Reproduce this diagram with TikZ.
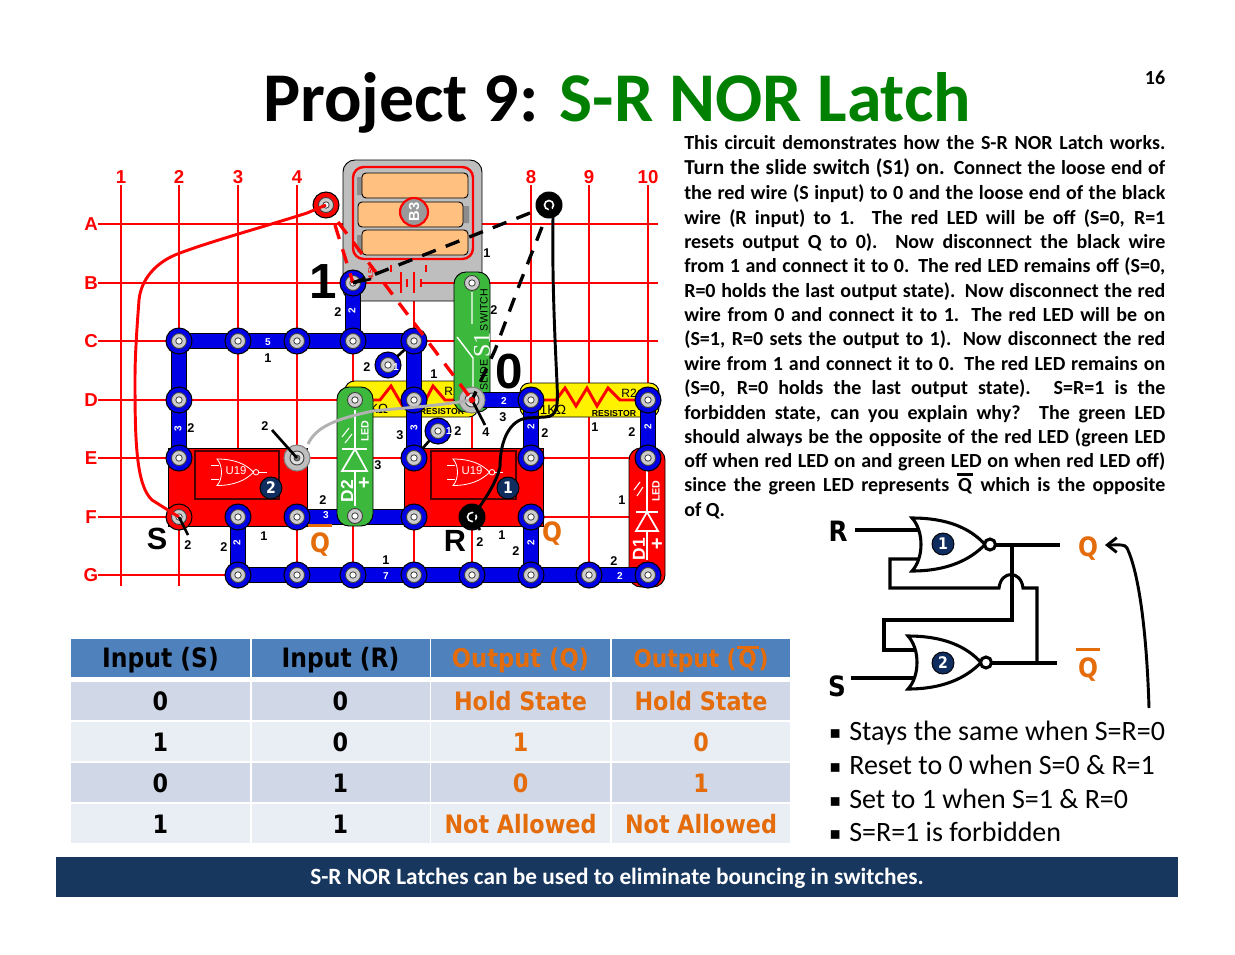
\documentclass[tikz,border=0pt]{standalone}
\usepackage{fontspec}
\usetikzlibrary{arrows.meta}
\setmainfont{Carlito}
\newfontfamily\arialfont{Liberation Sans}
\newfontfamily\serifont{Liberation Serif}
\newfontfamily\tabfont[FakeStretch=0.88]{DejaVu Sans}
\newfontfamily\symfont{DejaVu Sans}
\definecolor{gridred}{RGB}{255,0,0}
\definecolor{snapblue}{RGB}{0,0,230}
\definecolor{titlegreen}{RGB}{0,128,0}
\definecolor{ledgreen}{RGB}{60,184,60}
\definecolor{outorange}{RGB}{228,108,10}
\definecolor{headblue}{RGB}{79,129,189}
\definecolor{rowdark}{RGB}{208,216,232}
\definecolor{rowlight}{RGB}{233,237,244}
\definecolor{navy}{RGB}{23,55,94}
\definecolor{ballnavy}{RGB}{15,45,95}
\definecolor{cellorange}{RGB}{255,192,128}
\definecolor{batgrey}{RGB}{190,190,190}
\newcommand{\barq}[1]{\vbox{\offinterlineskip\hrule height .12em\kern #1\hbox{\kern.07em Q\kern.07em}}}
\tikzset{
  gridline/.style={gridred,line width=1.1pt},
  gridlabel/.style={gridred,font=\arialfont\bfseries\fontsize{14}{14}\selectfont,inner sep=0pt},
  barout/.style={black,line width=11.6pt},
  barin/.style={snapblue,line width=10pt},
  module/.style={draw=black,line width=.7pt,rounded corners=7pt},
  bodyline/.style={anchor=base west,inner sep=0pt,font=\bfseries\fontsize{15}{15}\selectfont},
  num/.style={font=\arialfont\bfseries\fontsize{9.5}{9.5}\selectfont,inner sep=0pt},
  barnum/.style={white,font=\arialfont\bfseries\fontsize{7.5}{7.5}\selectfont,inner sep=0pt},
  bigmark/.style={font=\arialfont\bfseries\fontsize{23}{23}\selectfont,inner sep=0pt},
  whitetxt/.style={white,inner sep=0pt,font=\arialfont\fontsize{8.5}{8.5}\selectfont},
  ball/.style={circle,draw=black,line width=.7pt,fill=ballnavy,text=white,inner sep=0pt,minimum size=16.5pt,font=\tabfont\bfseries\fontsize{12}{12}\selectfont},
  cellbox/.style={inner sep=0pt,minimum height=29pt,text height=15.5pt,text depth=.8pt,font=\tabfont\bfseries\fontsize{19}{19}\selectfont},
  headbox/.style={cellbox,fill=headblue,font=\tabfont\bfseries\fontsize{20}{20}\selectfont},
  logicline/.style={black,line width=2.3pt},
  bulletline/.style={anchor=base west,inner sep=0pt,font=\fontsize{21}{21}\selectfont},
  wiredash/.style={line width=2.5pt,dash pattern=on 11pt off 8pt},
}
\newcommand{\snapper}[2]{
  \draw[black,fill=#1,line width=.8pt] (#2) circle (13);
  \draw[black!75,fill=black!20,line width=.7pt] (#2) circle (7.5);
  \draw[black!75,fill=white,line width=.6pt] (#2) circle (3.2);
}
\newcommand{\greysnap}[1]{
  \draw[black!50,fill=black!25,line width=.8pt] (#1) circle (13);
  \draw[black!75,fill=black!12,line width=.7pt] (#1) circle (7);
  \draw[black!75,fill=black!50,line width=.6pt] (#1) circle (3);
}
\newcommand{\blacksnap}[1]{
  \fill[black] (#1) circle (13.5);
  \draw[white,line width=1.2pt] (#1) circle (4.5);
}
\newcommand{\bluebar}[2]{
  \draw[barout] (#1) -- (#2);
  \draw[barin] (#1) -- (#2);
}
\newcommand{\norgate}[3]{
  \begin{scope}[shift={(#1)},scale=#2]
    \draw[#3,line join=miter] (0,0) .. controls (12,13) and (12,40) .. (0,53) .. controls (35,53) and (58,42) .. (73,26.5) .. controls (58,10) and (35,0) .. (0,0) -- cycle;
    \draw[#3] (78,26.5) circle (5.5);
  \end{scope}
}
\begin{document}
\begin{tikzpicture}[x=0.75pt,y=-0.75pt]
  \path[use as bounding box] (0,0) rectangle (1235,954);
  %griglia
  \foreach \cc/\xx in {1/121,2/179,3/238,4/297,5/353,6/414,7/472,8/531,9/589,10/648} {
    \foreach \rr/\yy in {A/224,B/283,C/341,D/400,E/458,F/517,G/575}
      \coordinate (\rr\cc) at (\xx,\yy);
    \draw[gridline] (\xx,185) -- (\xx,586);
    \node[gridlabel] (col\cc) at (\xx,177) {\cc};
  }
  \foreach \rr/\yy in {A/224,B/283,C/341,D/400,E/458,F/517,G/575} {
    \draw[gridline] (98,\yy) -- (658,\yy);
    \node[gridlabel] (row\rr) at (91,\yy) {\rr};
  }
  %titolo
  \node[inner sep=0pt,font=\bfseries\fontsize{52.4}{52.4}\selectfont] (title) at (617,103) {Project 9: \textcolor{titlegreen}{S-R NOR Latch}};
  \node[inner sep=0pt,font=\bfseries\fontsize{15}{15}\selectfont] (pagenum) at (1155,78) {16};
  %batteria
  \draw[module,fill=batgrey,rounded corners=9pt] (343,160) rectangle (482,301);
  \draw[gridred,line width=1.8pt,rounded corners=8pt] (353,167) rectangle (473,259);
  \fill[black!45] (357,177) rectangle (362,195) (463,206) rectangle (469,223) (357,235) rectangle (362,252);
  \draw[module,fill=cellorange,rounded corners=3pt] (362,173) rectangle (468,198);
  \draw[module,fill=cellorange,rounded corners=3pt] (358,202) rectangle (463,227);
  \draw[module,fill=cellorange,rounded corners=3pt] (362,230) rectangle (468,255);
  \node[circle,draw=gridred,line width=1.6pt,fill=black!40,text=white,inner sep=0pt,minimum size=21pt,rotate=90,font=\arialfont\bfseries\fontsize{11}{11}\selectfont] (bthree) at (414,212) {B3};
  \draw[gridline] (B5) -- (401,283) (421,283) -- (454,283);
  \draw[gridline] (401,272) -- (401,293) (407,279) -- (407,287) (414,272) -- (414,293) (421,279) -- (421,287) (391,265) -- (391,272) (426,265) -- (426,272);
  \node[gridred,rotate=90,inner sep=0pt,font=\arialfont\bfseries\fontsize{5.5}{5.5}\selectfont] (volt) at (371,272) {4.5V};
  %moduli rossi
  \draw[black,line width=.7pt,fill=red] (168,448) rectangle (307,526);
  \draw[black,line width=.7pt,fill=red] (404,448) rectangle (543,526);
  \draw[black!70!red,line width=.8pt] (195,451) rectangle (279,499);
  \draw[black!70!red,line width=.8pt] (431,451) rectangle (516,499);
  \norgate{217,459}{.5}{white,line width=.6pt}
  \norgate{453,459}{.5}{white,line width=.6pt}
  \draw[white,line width=.6pt] (211,465) -- (219,465) (211,479) -- (219,479) (259,472) -- (267,472);
  \draw[white,line width=.6pt] (447,465) -- (455,465) (447,479) -- (455,479) (495,472) -- (503,472);
  \node[whitetxt] (ua) at (236,471) {U19};
  \node[whitetxt] (ub) at (472,471) {U19};
  \node[ball] (balla) at (271,488) {2};
  \node[ball] (ballb) at (508,488) {1};
  %resistenze
  \draw[module,fill=yellow] (345,381) rectangle (478,417);
  \draw[module,fill=yellow] (520,383) rectangle (659,417);
  \draw[red,line width=2.2pt] (355,400) -- (380,400) -- (391,386) -- (402,405) -- (414,386) -- (423,405) -- (433,386) -- (445,400) -- (472,400);
  \draw[red,line width=2.2pt] (531,400) -- (556,400) -- (565,388) -- (576,406) -- (587,388) -- (597,406) -- (608,388) -- (620,400) -- (648,400);
  \node[inner sep=0pt,font=\arialfont\fontsize{10}{10}\selectfont] (rkone) at (375,409) {1KΩ};
  \node[inner sep=0pt,font=\arialfont\fontsize{10}{10}\selectfont] (rktwo) at (553,410) {1KΩ};
  \node[inner sep=0pt,font=\arialfont\bfseries\fontsize{6.5}{6.5}\selectfont] (rnone) at (442,412) {RESISTOR};
  \node[inner sep=0pt,font=\arialfont\bfseries\fontsize{6.5}{6.5}\selectfont] (rntwo) at (614,414) {RESISTOR};
  \node[inner sep=0pt,font=\arialfont\fontsize{9}{9}\selectfont] (rone) at (452,391) {R1};
  \node[inner sep=0pt,font=\arialfont\fontsize{9}{9}\selectfont] (rtwo) at (629,393) {R2};
  %interruttore
  \draw[module,fill=ledgreen,rounded corners=9pt] (454,272) rectangle (490,412);
  \draw[white,line width=1.1pt] (472,292) -- (472,324) (457,337) -- (473,358) -- (473,392);
  \node[white,rotate=90,inner sep=0pt,font=\serifont\fontsize{18}{18}\selectfont] (sone) at (482,345) {S1};
  \node[rotate=90,inner sep=0pt,font=\arialfont\fontsize{8}{8}\selectfont] (swtxt) at (484,310) {SWITCH};
  \node[rotate=90,inner sep=0pt,font=\arialfont\fontsize{8}{8}\selectfont] (sltxt) at (484,375) {SLIDE};
  %led rosso
  \draw[module,fill=red,rounded corners=9pt] (629,448) rectangle (665,587);
  \draw[white,line width=1.1pt] (647,470) -- (647,512) (636,512) -- (658,512);
  \draw[white,line width=1.3pt,fill=red] (647,512) -- (636,531) -- (658,531) -- cycle;
  \draw[white,line width=1.1pt] (647,531) -- (647,560);
  \draw[white,line width=.8pt] (634,490) -- (640,482) (637,496) -- (643,487);
  \node[white,rotate=90,inner sep=0pt,font=\arialfont\bfseries\fontsize{8}{8}\selectfont] (lda) at (656,491) {LED};
  \node[white,rotate=90,inner sep=0pt,font=\arialfont\bfseries\fontsize{13}{13}\selectfont] (dlone) at (639,549) {D1};
  \node[white,inner sep=0pt,font=\arialfont\bfseries\fontsize{15}{15}\selectfont] (pla) at (657,545) {+};
  %fili blu
  \bluebar{C2}{C6}
  \bluebar{B5}{C5}
  \bluebar{C2}{E2}
  \bluebar{C6}{E6}
  \bluebar{F3}{G3}
  \bluebar{G3}{G10}
  \bluebar{F8}{G8}
  \bluebar{F4}{F6}
  \bluebar{D7}{D8}
  \bluebar{D8}{E8}
  \bluebar{D10}{E10}
  \draw[black,line width=2pt] (388,365) -- (C6) (438,431) -- (E6);
  \foreach \pp in {C2,C3,C4,C5,C6,B5,D2,E2,D6,E6,F3,G3,G4,G5,G6,G7,G8,G9,G10,F8,F4,F6,D8,E8,D10,E10}
    \snapper{snapblue}{\pp}
  \coordinate (singlea) at (388,365);
  \coordinate (singleb) at (438,431);
  \snapper{snapblue}{singlea}
  \snapper{snapblue}{singleb}
  \snapper{red}{F2}
  \greysnap{E4}
  \greysnap{D7}
  %led verde
  \draw[module,fill=ledgreen,rounded corners=9pt] (337,387) rectangle (373,526);
  \draw[white,line width=1.1pt] (355,410) -- (355,449) (342,449) -- (367,449);
  \draw[white,line width=1.3pt,fill=ledgreen] (355,449) -- (342,471) -- (367,471) -- cycle;
  \draw[white,line width=1.1pt] (355,471) -- (355,506);
  \draw[white,line width=.8pt] (342,437) -- (349,428) (345,443) -- (352,434);
  \node[white,rotate=90,inner sep=0pt,font=\arialfont\bfseries\fontsize{8}{8}\selectfont] (ldb) at (365,431) {LED};
  \node[white,rotate=90,inner sep=0pt,font=\arialfont\bfseries\fontsize{13}{13}\selectfont] (dltwo) at (347,491) {D2};
  \node[white,inner sep=0pt,font=\arialfont\bfseries\fontsize{15}{15}\selectfont] (plb) at (364,484) {+};
  \draw[black!75,fill=black!20,line width=.7pt] (355,400) circle (7.5);
  \draw[black!75,fill=white,line width=.6pt] (355,400) circle (3.2);
  \draw[black!75,fill=black!20,line width=.7pt] (355,516) circle (7.5);
  \draw[black!75,fill=white,line width=.6pt] (355,516) circle (3.2);
  \fill[black!20] (472,283) circle (7.5);
  \draw[black!75,line width=.7pt] (472,283) circle (7.5);
  \draw[black!75,fill=white,line width=.6pt] (472,283) circle (3.2);
  %fili
  \coordinate (redend) at (326,205);
  \coordinate (blackend) at (549,205);
  \coordinate (blacksnap) at (472,517);
  \snapper{red}{redend}
  \blacksnap{blackend}
  \blacksnap{blacksnap}
  \draw[black!30,line width=2.2pt] (E4) ++(11,-14) .. controls (316,427) and (335,419) .. (373,411) .. controls (400,408) and (430,407) .. (D7);
  \draw[red,line width=2.2pt] (redend) -- (307,213) .. controls (270,225) and (215,240) .. (180,253) .. controls (155,262) and (141,280) .. (139,300) .. controls (136,340) and (135,360) .. (135,380) .. controls (135,440) and (136,485) .. (152,500) -- (F2);
  \draw[black,line width=2.2pt] (blackend) -- (553,217) .. controls (552,280) and (555,340) .. (557,383) .. controls (558,405) and (558,417) .. (545,417) -- (527,418) .. controls (510,420) and (500,440) .. (500,467) .. controls (497,480) and (488,496) .. (blacksnap);
  \draw[red,wiredash] (redend) ++(9,20) -- (B5);
  \draw[red,wiredash] (redend) ++(12,17) -- (D7);
  \draw[black,wiredash] (blackend) ++(-19,8) -- (B5);
  \draw[black,wiredash] (blackend) ++(-7,22) -- (520,283) -- (495,350) -- (D7);
  %tacche
  \draw[black,line width=2pt] (272,430) -- (E4) (F2) -- (188,535) (D7) -- (485,425) (blacksnap) -- (480,530) (B5) -- (371,279);
  \fill[red] (D7) circle (3);
  %numeri
  \foreach \xx/\yy/\lb [count=\i] in {338/312/2,268/358/1,367/367/2,434/374/1,487/253/1,494/310/2,503/417/3,545/433/2,595/427/1,632/432/2,486/432/4,458/431/2,400/435/3,378/465/3,191/428/2,265/426/2,323/500/2,188/545/2,264/536/1,224/547/2,386/560/1,480/542/2,502/535/1,516/551/2,614/561/2,622/500/1}
    \node[num] (n\i) at (\xx,\yy) {\lb};
  \foreach \xx/\yy/\lb/\ang [count=\i] in {352/311/2/90,178/429/3/90,414/428/3/90,237/543/2/90,531/543/2/90,531/427/2/90,648/427/2/90,268/342/5/0,326/515/3/0,386/576/7/0,620/576/2/0,504/401/2/0,396/367/1/0,449/431/1/0}
    \node[barnum,rotate=\ang] (b\i) at (\xx,\yy) {\lb};
  \node[bigmark,font=\arialfont\bfseries\fontsize{37}{37}\selectfont] (one) at (323,282) {1};
  \node[bigmark,font=\arialfont\bfseries\fontsize{37}{37}\selectfont] (zero) at (509,372) {0};
  \node[bigmark] (smark) at (157,539) {S};
  \node[bigmark] (rmark) at (455,541) {R};
  \node[anchor=base,inner sep=0pt,text=outorange,font=\tabfont\bfseries\fontsize{20}{20}\selectfont] (qbarboard) at (320,552) {\barq{.2em}};
  \node[anchor=base,inner sep=0pt,text=outorange,font=\tabfont\bfseries\fontsize{20}{20}\selectfont] (qboard) at (552,541) {Q};
  %testo
  \foreach \yy/\txt [count=\i] in {
    149/{This circuit demonstrates how the S-R NOR Latch works.},
    174/{{\fontsize{16}{16}\selectfont Turn the slide switch (S1) on.} Connect the loose end of},
    199/{the red wire (S input) to 0 and the loose end of the black},
    224/{wire (R input) to 1. The red LED will be off (S=0, R=1},
    248/{resets output Q to 0). Now disconnect the black wire},
    272/{from 1 and connect it to 0. The red LED remains off (S=0,},
    297/{R=0 holds the last output state). Now disconnect the red},
    321/{wire from 0 and connect it to 1. The red LED will be on},
    345/{(S=1, R=0 sets the output to 1). Now disconnect the red},
    370/{wire from 1 and connect it to 0. The red LED remains on},
    394/{(S=0, R=0 holds the last output state). S=R=1 is the},
    419/{forbidden state, can you explain why? The green LED},
    443/{should always be the opposite of the red LED (green LED},
    467/{off when red LED on and green LED on when red LED off)},
    491/{since the green LED represents \barq{.1em} which is the opposite}}
    \node[bodyline] (para\i) at (684,\yy) {\makebox[360.75pt][s]{\txt}};
  \node[bodyline] (paralast) at (684,516) {of Q.};
  %schema
  \norgate{912,518}{1}{logicline,fill=white}
  \norgate{908,636}{1}{logicline,fill=white}
  \node[ball] (ballc) at (943,544) {1};
  \node[ball] (balld) at (943,663) {2};
  \coordinate (qjoin) at (1012,545);
  \coordinate (qbjoin) at (1037,663);
  \draw[logicline] (855,530) -- (918,530);
  \draw[logicline] (851,678) -- (915,678);
  \draw[logicline] (995,545) -- (1060,545);
  \draw[logicline] (991,663) -- (1057,663);
  \draw[logicline] (918,559) -- (890,559) -- (890,588) -- (999,588) .. controls (1001,570) and (1021,570) .. (1023,588) -- (1037,588) -- (qbjoin);
  \draw[logicline] (qjoin) -- (1012,620) -- (884,620) -- (884,650) -- (914,650);
  \draw[black,line width=2.2pt,-{Straight Barb[length=7pt,width=11pt]}] (1149,708) .. controls (1147,640) and (1140,575) .. (1127,548) .. controls (1125,544) and (1120,545) .. (1105,545);
  \node[inner sep=0pt,font=\tabfont\bfseries\fontsize{21}{21}\selectfont] (rlabel) at (838,531) {R};
  \node[inner sep=0pt,font=\tabfont\bfseries\fontsize{21}{21}\selectfont] (slabel) at (837,686) {S};
  \node[anchor=base,inner sep=0pt,text=outorange,font=\tabfont\bfseries\fontsize{20}{20}\selectfont] (qout) at (1088,556) {Q};
  \node[anchor=base,inner sep=0pt,text=outorange,font=\tabfont\bfseries\fontsize{20}{20}\selectfont] (qbout) at (1088,677) {\barq{.22em}};
  %elenco
  \foreach \yy/\txt [count=\i] in {740/{Stays the same when S=R=0},774/{Reset to 0 when S=0 \& R=1},808/{Set to 1 when S=1 \& R=0},841/{S=R=1 is forbidden}} {
    \node[bulletline] (bul\i) at (849,\yy) {\txt};
    \node[bulletline,font=\symfont\fontsize{13}{13}\selectfont] (dot\i) at (829,\yy-2) {▪};
  }
  %tabella
  \foreach \xx/\ww/\hh/\cl [count=\i] in {160.5/134.25/Input (S)/black,340.5/133.5/Input (R)/black}
    \node[headbox,minimum width=\ww pt,text=\cl] (head\i) at (\xx,658) {\hh};
  \node[headbox,minimum width=134.25pt,text=outorange,font=\tabfont\bfseries\fontsize{19.3}{19.3}\selectfont] (head3) at (520.5,658) {Output (Q)};
  \node[headbox,minimum width=133.5pt,text=outorange,font=\tabfont\bfseries\fontsize{18.5}{18.5}\selectfont] (head4) at (701,658) {Output (\barq{.02em})};
  \foreach \yy/\ff/\ca/\cb/\cc/\cd [count=\i] in {
    701/rowdark/0/0/Hold State/Hold State,
    741.5/rowlight/1/0/1/0,
    782.5/rowdark/0/1/0/1,
    823.5/rowlight/1/1/Not Allowed/Not Allowed} {
    \node[cellbox,fill=\ff,minimum width=134.25pt] (cell\i a) at (160.5,\yy) {\ca};
    \node[cellbox,fill=\ff,minimum width=133.5pt] (cell\i b) at (340.5,\yy) {\cb};
    \node[cellbox,fill=\ff,minimum width=134.25pt,text=outorange] (cell\i c) at (520.5,\yy) {\cc};
    \node[cellbox,fill=\ff,minimum width=133.5pt,text=outorange] (cell\i d) at (701,\yy) {\cd};
  }
  %banda
  \fill[navy] (56,857) rectangle (1178,897);
  \node[white,inner sep=0pt,font=\bfseries\fontsize{17.5}{17.5}\selectfont] (banner) at (617,878) {S-R NOR Latches can be used to eliminate bouncing in switches.};
\end{tikzpicture}
\end{document}
